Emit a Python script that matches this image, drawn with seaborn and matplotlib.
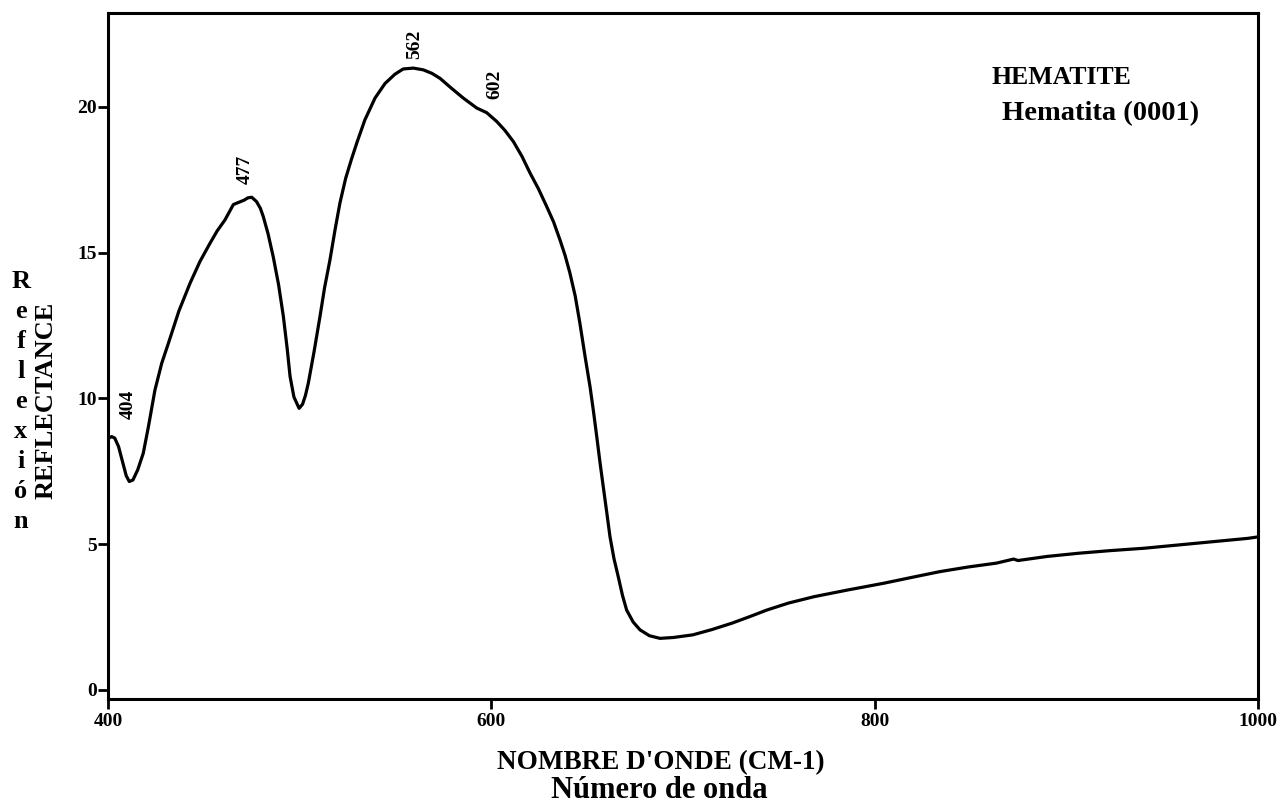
import numpy as np
import pandas as pd
import matplotlib
matplotlib.use("Agg")
import matplotlib.pyplot as plt
import seaborn as sns

# ---- data ----
wavenumber = [400.0, 401.9, 403.5, 405.5, 407.5, 409.5, 411.1, 413.0, 415.5, 418.4,
              421.0, 424.5, 428.0, 431.5, 437.0, 442.8, 448.0, 453.2, 457.0, 461.0,
              465.4, 468.0, 471.0, 473.0, 475.0, 477.5, 479.5, 481.0, 483.5, 486.2,
              489.0, 491.5, 493.5, 495.0, 497.0, 499.7, 501.5, 503.0, 504.5, 507.5,
              510.6, 513.0, 515.8, 518.5, 521.0, 524.0, 527.0, 530.0, 534.0, 539.3,
              544.5, 549.7, 554.0, 559.3, 564.5, 569.0, 573.2, 579.0, 585.4, 592.4,
              597.6, 602.8, 607.0, 611.5, 616.0, 620.2, 624.5, 628.9, 632.5, 635.8,
              638.5, 641.0, 643.8, 646.2, 649.0, 651.5, 653.3, 655.0, 656.7, 658.4,
              660.2, 661.9, 664.0, 666.2, 668.4, 670.6, 674.0, 677.6, 682.5, 688.0,
              695.0, 705.1, 715.0, 725.5, 735.0, 743.7, 755.0, 768.4, 786.0, 804.7,
              820.0, 834.1, 849.0, 863.5, 872.5, 874.8, 890.0, 906.5, 923.0, 940.4,
              967.5, 994.7, 1000.0]
reflectance = [8.62, 8.69, 8.64, 8.35, 7.85, 7.35, 7.15, 7.20, 7.55, 8.12,
               9.00, 10.29, 11.20, 11.89, 13.00, 13.95, 14.70, 15.32, 15.75, 16.12,
               16.65, 16.72, 16.80, 16.88, 16.90, 16.75, 16.52, 16.24, 15.65, 14.86,
               13.90, 12.81, 11.70, 10.75, 10.05, 9.66, 9.80, 10.10, 10.52, 11.60,
               12.81, 13.80, 14.75, 15.80, 16.70, 17.55, 18.20, 18.80, 19.55, 20.30,
               20.80, 21.12, 21.30, 21.33, 21.27, 21.15, 20.98, 20.65, 20.30, 19.96,
               19.80, 19.50, 19.20, 18.81, 18.30, 17.73, 17.20, 16.58, 16.05, 15.44,
               14.90, 14.30, 13.50, 12.58, 11.40, 10.40, 9.55, 8.69, 7.80, 6.97,
               6.10, 5.26, 4.50, 3.89, 3.25, 2.74, 2.33, 2.06, 1.86, 1.77,
               1.80, 1.89, 2.07, 2.29, 2.52, 2.74, 2.98, 3.20, 3.43, 3.66,
               3.87, 4.06, 4.22, 4.35, 4.49, 4.44, 4.58, 4.69, 4.78, 4.86,
               5.03, 5.20, 5.25]

peak_labels = ["404", "477", "562", "602"]
peak_label_x = [410.4, 471.5, 559.8, 601.6]
peak_label_y = [9.78, 17.84, 22.16, 20.79]

x_ticks = [400, 600, 800, 1000]
y_ticks = [0, 5, 10, 15, 20]

df = pd.DataFrame({"x": wavenumber, "y": reflectance})

sns.set_theme(style="ticks")
plt.rcParams["font.family"] = ["Liberation Serif", "DejaVu Serif"]
plt.rcParams["font.weight"] = "bold"
plt.rcParams["text.color"] = "black"
plt.rcParams["axes.labelcolor"] = "black"
plt.rcParams["xtick.color"] = "black"
plt.rcParams["ytick.color"] = "black"

W, H = 1286, 805
fig = plt.figure(figsize=(W / 100, H / 100), dpi=100)
ax = fig.add_axes([108 / W, 1 - 699 / H, (1258 - 108) / W, (699 - 13) / H])

sns.lineplot(data=df, x="x", y="y", ax=ax, color="black", linewidth=2.3,
             sort=False, solid_joinstyle="round", solid_capstyle="round")

ax.set_xlim(400, 1000)
ax.set_ylim(-0.31, 23.22)
ax.set_xticks(x_ticks)
ax.set_yticks(y_ticks)
ax.set_xticklabels([str(t) for t in x_ticks], fontsize=14, fontweight="bold", color="black")
ax.set_yticklabels([str(t) for t in y_ticks], fontsize=14, fontweight="bold", color="black")
ax.tick_params(axis="both", direction="out", length=7, width=2, color="black")
ax.tick_params(axis="y", pad=1)
ax.tick_params(axis="x", pad=3)
for s in ax.spines.values():
    s.set_linewidth(2.2)
    s.set_color("black")
    s.set_visible(True)
ax.set_xlabel("")
ax.set_ylabel("")

for lab, lx, ly in zip(peak_labels, peak_label_x, peak_label_y):
    ax.text(lx, ly, lab, rotation=90, ha="center", va="center",
            fontsize=14, fontweight="bold", color="black")

# sample name
fig.text(992 / W, 1 - 77 / H, "HEMATITE", fontsize=18.5,
         fontweight="bold", ha="left", va="center", color="black")
fig.text(1002 / W, 1 - 114 / H, "Hematita (0001)", fontsize=20.5,
         fontweight="bold", ha="left", va="center", color="black")

# x-axis titles
fig.text(661 / W, 1 - 763 / H, "NOMBRE D'ONDE (CM-1)", fontsize=19.5,
         fontweight="bold", ha="center", va="center", color="black")
fig.text(659 / W, 1 - 790 / H, "Número de onda", fontsize=22,
         fontweight="bold", ha="center", va="center", color="black")

# y-axis titles
fig.text(46 / W, 1 - 400 / H, "REFLECTANCE", fontsize=19, rotation=90,
         fontweight="bold", ha="center", va="center", color="black")
letters = list("Reflexión")
for i, ch in enumerate(letters):
    fig.text(21 / W, 1 - (288 + i * 30.0) / H, ch, fontsize=19,
             fontweight="bold", ha="center", va="baseline", color="black")

fig.savefig("out.png", dpi=100, facecolor="white")
